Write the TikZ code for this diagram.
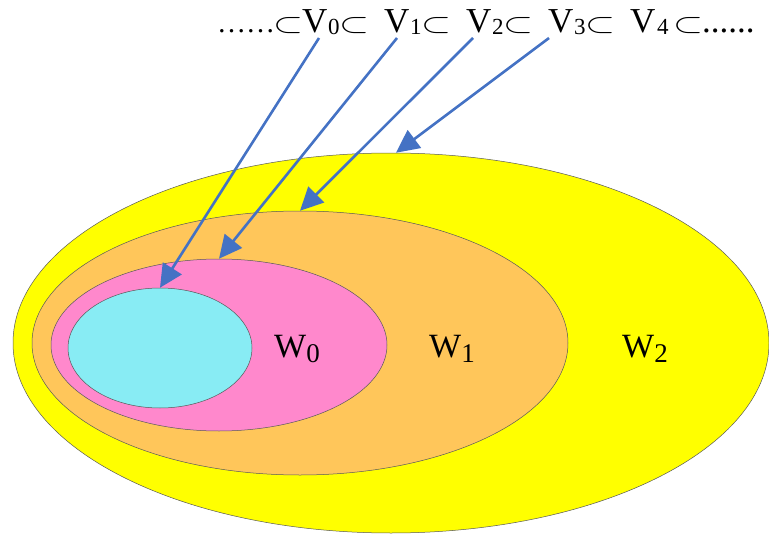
\documentclass[tikz,border=0pt]{standalone}
\usepackage{fontspec}
\setmainfont{Liberation Serif}
\usetikzlibrary{arrows.meta,shapes.geometric}
\definecolor{ylw}{RGB}{255,255,0}
\definecolor{org}{RGB}{255,198,90}
\definecolor{pnk}{RGB}{255,136,204}
\definecolor{cyn}{RGB}{136,236,244}
\definecolor{arr}{RGB}{68,114,196}
\newcommand{\lo}[1]{\raisebox{-2pt}{\fontsize{23}{23}\selectfont #1}}
\newcommand{\wlo}[1]{\raisebox{-5pt}{\fontsize{27}{27}\selectfont #1}}
\newcommand{\subsym}{\raisebox{0.5pt}{\resizebox{30pt}{15pt}{$\subset$}}}
\newcommand{\grp}[1]{\makebox[26pt][l]{V}\makebox[14pt][l]{\lo{#1}}\makebox[42pt][l]{\hspace{-3pt}\subsym}}
\begin{document}
\begin{tikzpicture}[x=1pt,y=-1pt,
  region/.style={ellipse, draw=black!65, line width=0.5pt, inner sep=0pt},
  ptr/.style={draw=arr, line width=2.6pt, -{Triangle[length=23pt,width=22pt]}},
  wlabel/.style={font=\fontsize{34}{40}\selectfont, inner sep=0pt, anchor=base west}]
\useasboundingbox (0,0) rectangle (769,535);
\node[region, fill=ylw, minimum width=756pt, minimum height=380pt] (w2) at (391,343) {};
\node[region, fill=org, minimum width=536pt, minimum height=264pt] (w1) at (300,343) {};
\node[region, fill=pnk, minimum width=336pt, minimum height=172pt] (w0) at (219,345) {};
\node[region, fill=cyn, minimum width=184pt, minimum height=120pt] (v0) at (160,348) {};
\node[wlabel] (l0) at (274,357) {W\wlo{0}};
\node[wlabel] (l1) at (429,357) {W\wlo{1}};
\node[wlabel] (l2) at (622,357) {W\wlo{2}};
\node[inner sep=0pt, anchor=base west, font=\fontsize{35}{40}\selectfont] (chain) at (217,33)
  {\makebox[58pt][l]{\fontsize{29}{29}\selectfont ……}\makebox[27pt][l]{\hspace{-2pt}\subsym}\grp{0}\grp{1}\grp{2}\grp{3}\makebox[27pt][l]{V}\makebox[19pt][l]{\lo{4}}\makebox[26pt][l]{\hspace{-3pt}\subsym}......};
\coordinate (s0) at (319,38);
\coordinate (s1) at (397,38);
\coordinate (s2) at (473,38);
\coordinate (s3) at (549,38);
\draw[ptr] (s0) -- (v0.north);
\draw[ptr] (s1) -- (w0.north);
\draw[ptr] (s2) -- (w1.north);
\draw[ptr] (s3) -- ([xshift=5pt]w2.north);
\end{tikzpicture}
\end{document}
